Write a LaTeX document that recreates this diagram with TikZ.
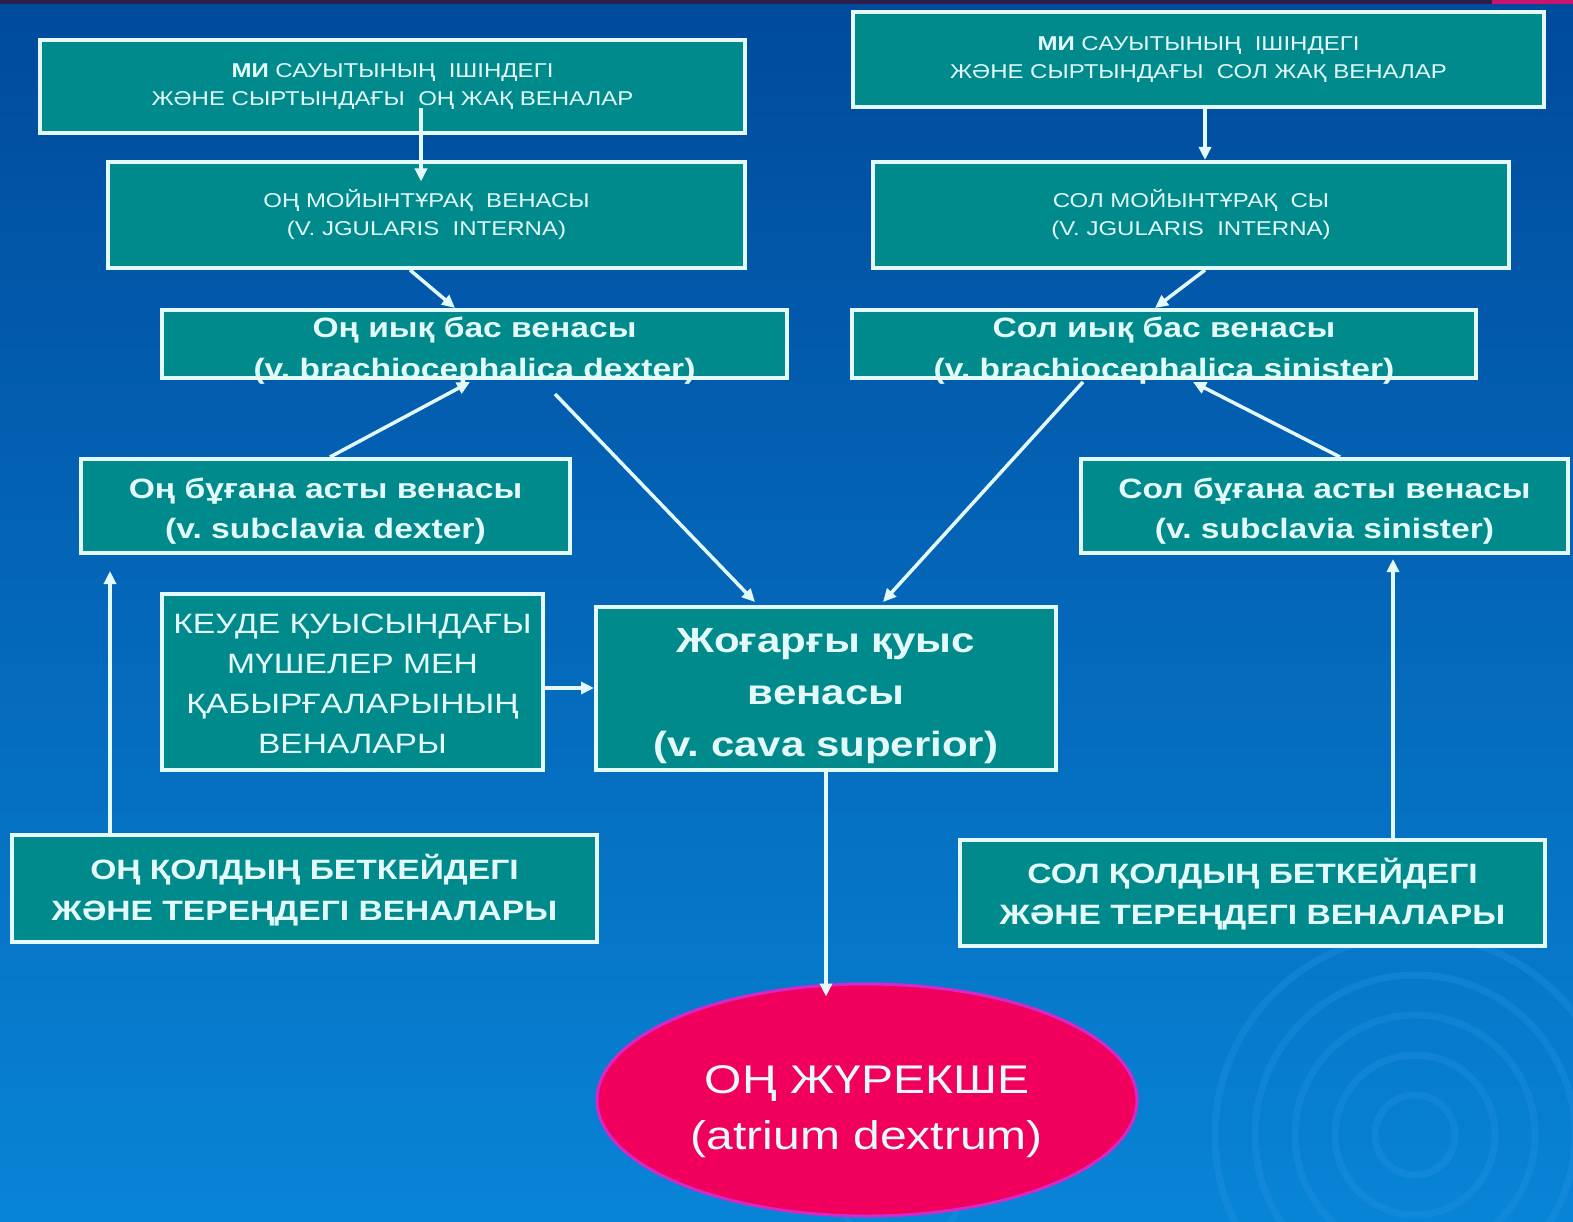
\documentclass[tikz,border=0pt]{standalone}
\usepackage{fontspec}
\setmainfont{Liberation Sans}[FakeStretch=1.2]
\usetikzlibrary{arrows.meta, shapes.geometric, positioning}
\definecolor{bgtop}{RGB}{0, 74, 156}
\definecolor{bgbottom}{RGB}{8, 132, 214}
\definecolor{ringblue}{RGB}{40, 150, 232}
\definecolor{topbar}{RGB}{44, 30, 74}
\definecolor{topbarpink}{RGB}{200, 20, 110}
\definecolor{veinteal}{RGB}{0, 138, 140}
\definecolor{veinline}{RGB}{228, 250, 250}
\definecolor{atriumred}{RGB}{240, 0, 92}
\definecolor{atriumedge}{RGB}{214, 40, 200}
\newcommand{\lift}[1]{\rule{0pt}{#1}}
\frenchspacing
\tikzset{
    veinbox/.style={rectangle, draw=veinline, fill=veinteal, line width=4pt, inner sep=0pt,
                    align=center, text=veinline},
    capsfont/.style={font=\fontsize{20}{28}\selectfont},
    namefont/.style={font=\bfseries\fontsize{28}{40}\selectfont},
    flowarrow/.style={-{Triangle[length=13pt, width=12pt]}, line width=3.5pt, draw=veinline},
}

\begin{document}
\begin{tikzpicture}[x=1pt, y=-1pt]
            \useasboundingbox (0,0) rectangle (1573,1222);
            \shade[top color=bgtop, bottom color=bgbottom] (0,0) rectangle (1573,1222);
            \foreach \r in {40,80,120,160,200} {
                \draw[ringblue, line width=7pt, opacity=0.3] (1415,1135) circle[radius=\r pt];
            }
            \draw[ringblue, line width=6pt, opacity=0.3] (900,1190) circle[radius=60pt];
            \fill[topbar] (0,0) rectangle (1573,4);
            \fill[topbarpink] (1492,0) rectangle (1573,4);

            % right side of the body
            \node[veinbox, capsfont, minimum width=705, minimum height=93] (cranR) at (392.5,86.5)
                {\textbf{МИ} САУЫТЫНЫҢ~ ІШІНДЕГІ\\ЖӘНЕ СЫРТЫНДАҒЫ~ ОҢ ЖАҚ ВЕНАЛАР};
            \node[veinbox, capsfont, minimum width=637, minimum height=106] (jugR) at (426.5,215)
                {ОҢ МОЙЫНТҰРАҚ~ ВЕНАСЫ\\(V. JGULARIS~ INTERNA)};
            \node[veinbox, font=\bfseries\fontsize{28}{41}\selectfont, inner ysep=-12pt, minimum width=625, minimum height=68] (brachR) at (474.5,344)
                {\lift{33pt}Оң иық бас венасы\\(v. brachiocephalica dexter)};
            \node[veinbox, namefont, minimum width=489, minimum height=94] (subR) at (325.5,506)
                {\lift{30pt}Оң бұғана асты венасы\\(v. subclavia dexter)};
            \node[veinbox, font=\fontsize{28}{40}\selectfont, minimum width=381, minimum height=176] (thorax) at (352.5,682)
                {\lift{24pt}КЕУДЕ ҚУЫСЫНДАҒЫ\\МҮШЕЛЕР МЕН\\ҚАБЫРҒАЛАРЫНЫҢ\\ВЕНАЛАРЫ};
            \node[veinbox, font=\bfseries\fontsize{35}{52}\selectfont, minimum width=460, minimum height=163] (cava) at (826,688.5)
                {\lift{40pt}Жоғарғы қуыс\\венасы\\(v. cava superior)};
            \node[veinbox, font=\bfseries\fontsize{28}{41}\selectfont, minimum width=585, minimum height=107] (armR) at (304.5,888.5)
                {\lift{28pt}ОҢ ҚОЛДЫҢ БЕТКЕЙДЕГІ\\ЖӘНЕ ТЕРЕҢДЕГІ ВЕНАЛАРЫ};

            % left side of the body
            \node[veinbox, capsfont, minimum width=691, minimum height=95] (cranL) at (1198.5,59.5)
                {\textbf{МИ} САУЫТЫНЫҢ~ ІШІНДЕГІ\\ЖӘНЕ СЫРТЫНДАҒЫ~ СОЛ ЖАҚ ВЕНАЛАР};
            \node[veinbox, capsfont, minimum width=636, minimum height=106] (jugL) at (1191,215)
                {СОЛ МОЙЫНТҰРАҚ~ СЫ\\(V. JGULARIS~ INTERNA)};
            \node[veinbox, font=\bfseries\fontsize{28}{41}\selectfont, inner ysep=-12pt, minimum width=624, minimum height=68] (brachL) at (1164,344)
                {\lift{33pt}Сол иық бас венасы\\(v. brachiocephalica sinister)};
            \node[veinbox, namefont, minimum width=487, minimum height=94] (subL) at (1324.5,506)
                {\lift{30pt}Сол бұғана асты венасы\\(v. subclavia sinister)};
            \node[veinbox, font=\bfseries\fontsize{28}{41}\selectfont, minimum width=585, minimum height=106] (armL) at (1252.5,893)
                {\lift{28pt}СОЛ ҚОЛДЫҢ БЕТКЕЙДЕГІ\\ЖӘНЕ ТЕРЕҢДЕГІ ВЕНАЛАРЫ};

            \node[ellipse, draw=atriumedge, fill=atriumred, line width=3pt, inner sep=0pt, align=center,
                  text=veinline, font=\fontsize{40}{56}\selectfont,
                  minimum width=540, minimum height=232] (atrium) at (867,1100)
                {\lift{52pt}ОҢ ЖҮРЕКШЕ\\(atrium dextrum)};

            \draw[flowarrow] ([xshift=28.5pt, yshift=-21.5pt]cranR.center) -- ([xshift=28.5pt, yshift=-21.5pt]cranR.center |- jugR.north);
            \draw[flowarrow] ([xshift=-16.5pt]jugR.south) -- ([xshift=-19.5pt]brachR.north);
            \draw[flowarrow] ([xshift=4.5pt]subR.north) -- ([xshift=-4.5pt, yshift=-2pt]brachR.south);
            \draw[flowarrow] ([xshift=80.5pt, yshift=-14pt]brachR.south) -- ([xshift=-71pt, yshift=3pt]cava.north);
            \draw[flowarrow] ([xshift=6.5pt]cranL.south) -- ([xshift=6.5pt]cranL.south |- jugL.north);
            \draw[flowarrow] ([xshift=14pt]jugL.south) -- ([xshift=-9pt]brachL.north);
            \draw[flowarrow] ([xshift=15.5pt]subL.north) -- ([xshift=29pt, yshift=-2pt]brachL.south);
            \draw[flowarrow] ([xshift=-81pt, yshift=-2pt]brachL.south) -- ([xshift=57pt, yshift=3pt]cava.north);
            \draw[flowarrow, shorten >=16pt] ([xshift=-194.5pt]armR.north) -- ([xshift=-194.5pt]armR.north |- subR.south);
            \draw[flowarrow, shorten >=4pt] ([xshift=140.5pt]armL.north) -- ([xshift=140.5pt]armL.north |- subL.south);
            \draw[flowarrow] ([yshift=-6pt]thorax.east) -- ([yshift=-6pt]thorax.east -| cava.west);
            \draw[flowarrow, shorten >=-14pt] (cava.south) -- (cava.south |- atrium.north);
        \end{tikzpicture}
\end{document}
